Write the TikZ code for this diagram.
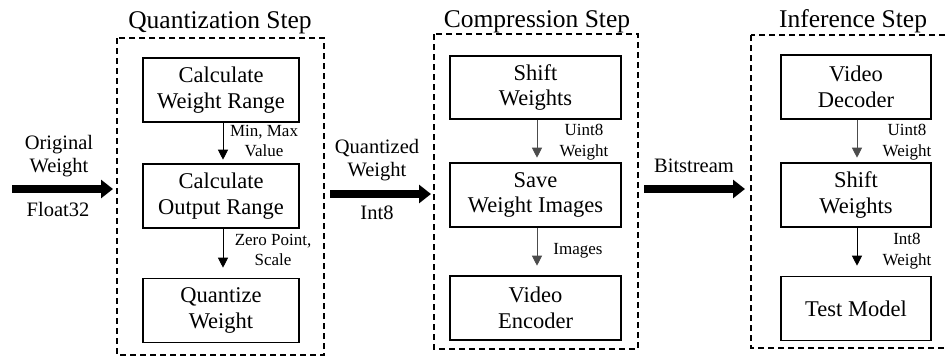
\documentclass[tikz,border=0pt]{standalone}
\usepackage{fontspec}
\setmainfont{Liberation Serif}
\usetikzlibrary{arrows.meta}
\begin{document}
\begin{tikzpicture}[x=1pt,y=-1pt,
  procbox/.style={draw,line width=1.4pt,fill=white,minimum width=156pt,minimum height=64pt,align=center,font=\fontsize{22.5}{25.5}\selectfont,inner sep=0pt},
  grp/.style={draw,line width=1.2pt,dash pattern=on 6pt off 4pt},
  gtitle/.style={font=\fontsize{25.5}{28}\selectfont,inner sep=0pt},
  small/.style={font=\fontsize{17}{20.5}\selectfont,align=center,inner sep=0pt},
  mid/.style={font=\fontsize{20.5}{23.5}\selectfont,align=center,inner sep=0pt},
  thin/.style={line width=0.9pt,-{Triangle[length=10pt,width=10pt]}},
  fat/.style={line width=8.5pt,-{Triangle[length=12pt,width=18pt]}}]
\useasboundingbox (0,0) rectangle (946,360);
% group frames
\draw[grp] (117,38) rectangle (324,355);
\draw[grp] (434,34) rectangle (638,349);
\draw[grp] (751,35) rectangle (960,348);
\node[gtitle,anchor=base] (t1) at (220,28) {Quantization Step};
\node[gtitle,anchor=base] (t2) at (537,27) {Compression Step};
\node[gtitle,anchor=base] (t3) at (853,27) {Inference Step};
% quantization
\node[procbox] (q1) at (221,90) {Calculate\\Weight Range};
\node[procbox] (q2) at (221,196) {Calculate\\Output Range};
\node[procbox] (q3) at (221,310.5) {Quantize\\Weight};
\draw[thin] (q1.south) ++(2,0) -- ++(0,37);
\draw[thin] (q2.south) ++(2,0) -- ++(0,39);
\node[small] (l1) at (264,141) {Min, Max\\Value};
\node[small] (l2) at (273,250) {Zero Point,\\Scale};
% compression
\node[procbox,minimum width=171pt,minimum height=63pt] (c1) at (535.5,87.5) {Shift\\Weights};
\node[procbox,minimum width=171pt] (c2) at (535.5,195) {Save\\Weight Images};
\node[procbox,minimum width=171pt] (c3) at (535.5,308) {Video\\Encoder};
\draw[thin,draw=gray!60!black] (c1.south) ++(1.5,0) -- ++(0,38);
\draw[thin,draw=gray!60!black] (c2.south) ++(1.5,0) -- ++(0,38);
\node[small] (l3) at (584,142) {Uint8\\Weight};
\node[small] (l4) at (578,251) {Images};
% inference
\node[procbox,minimum width=150pt] (i1) at (856,87) {Video\\Decoder};
\node[procbox,minimum width=150pt] (i2) at (856,195) {Shift\\Weights};
\node[procbox,minimum width=150pt] (i3) at (856,308.5) {Test Model};
\draw[thin,draw=gray!60!black] (i1.south) ++(1,0) -- ++(0,38);
\draw[thin] (i2.south) ++(1,0) -- ++(0,38);
\node[small] (l5) at (907,142) {Uint8\\Weight};
\node[small] (l6) at (907,251) {Int8\\Weight};
% big arrows
\coordinate (s0) at (12,189);
\coordinate (s0e) at (113,189);
\draw[fat] (s0) -- (s0e);
\node[mid] (o1) at (59,156) {Original\\Weight};
\node[mid] (o2) at (58,209) {Float32};
\coordinate (s1) at (330,194);
\coordinate (s1e) at (431,194);
\draw[fat] (s1) -- (s1e);
\node[mid] (o3) at (377,160) {Quantized\\Weight};
\node[mid] (o4) at (377,213) {Int8};
\coordinate (s2) at (644,189);
\coordinate (s2e) at (745,189);
\draw[fat] (s2) -- (s2e);
\node[mid] (o5) at (694,166) {Bitstream};
\end{tikzpicture}
\end{document}
